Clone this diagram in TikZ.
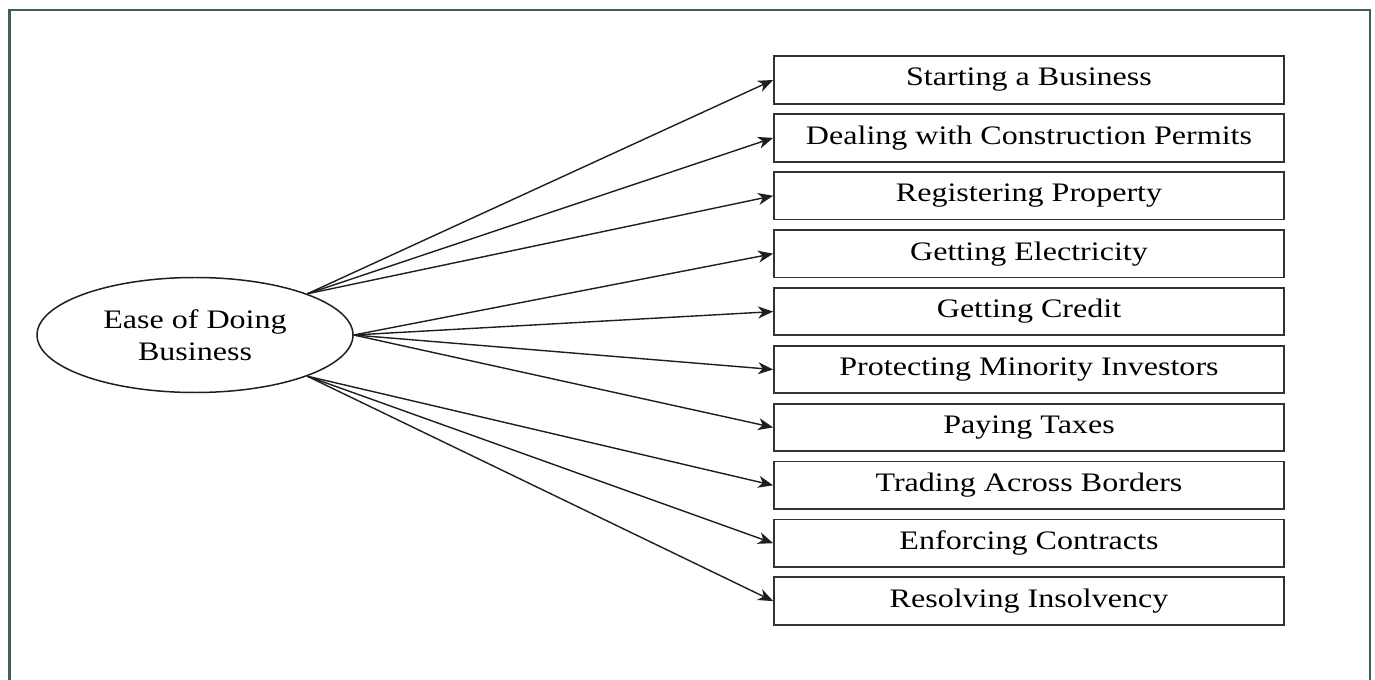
\documentclass[tikz,border=0pt]{standalone}
\usepackage{fontspec}
\setmainfont{Liberation Serif}[FakeStretch=1.2]
\usepackage{tikz}
\usetikzlibrary{shapes.geometric, arrows.meta, positioning}
\definecolor{myframe}{RGB}{62,96,86}
\definecolor{mydark}{RGB}{30,30,30}
\definecolor{myedge}{RGB}{50,50,50}
\tikzset{
  block/.style={rectangle, draw=myedge, line width=1pt,
    minimum width=10.2cm, minimum height=0.95cm, inner sep=0pt,
    font=\fontsize{15.2}{18}\selectfont},
  hub/.style={ellipse, draw=mydark, line width=0.85pt,
    minimum width=6.32cm, minimum height=2.3cm, inner sep=0pt,
    align=center, font=\fontsize{15.2}{18}\selectfont},
  arrow/.style={-{Stealth[length=0.3cm, width=0.24cm, inset=0.09cm]}, line width=0.8pt, color=mydark}
}
\begin{document}
\begin{tikzpicture}
  \useasboundingbox (0,0) rectangle (27.5,-13.6);
  % Frame (open at the bottom)
  \draw[myframe, line width=1.2pt] (0.19,-13.8) -- (0.19,-0.2) -- (27.4,-0.2) -- (27.4,-13.8);

  % Main factor
  \node[hub] (ease) at (3.9,-6.7) {Ease of Doing\\Business};

  % Indicators
  \node[block] (start)       at (20.58,-1.6)   {Starting a Business};
  \node[block] (permits)     at (20.58,-2.758) {Dealing with Construction Permits};
  \node[block] (property)    at (20.58,-3.916) {Registering Property};
  \node[block] (electricity) at (20.58,-5.074) {Getting Electricity};
  \node[block] (credit)      at (20.58,-6.232) {Getting Credit};
  \node[block] (investors)   at (20.58,-7.39)  {Protecting Minority Investors};
  \node[block] (taxes)       at (20.58,-8.548) {Paying Taxes};
  \node[block] (trading)     at (20.58,-9.706) {Trading Across Borders};
  \node[block] (contracts)   at (20.58,-10.864) {Enforcing Contracts};
  \node[block] (insolvency)  at (20.58,-12.022) {Resolving Insolvency};

  % Arrows
  \foreach \b in {start, permits, property}
    \draw[arrow] (ease.north east) -- (\b.west);
  \foreach \b in {electricity, credit, investors, taxes}
    \draw[arrow] (ease.east) -- (\b.west);
  \foreach \b in {trading, contracts, insolvency}
    \draw[arrow] (ease.south east) -- (\b.west);
\end{tikzpicture}
\end{document}
